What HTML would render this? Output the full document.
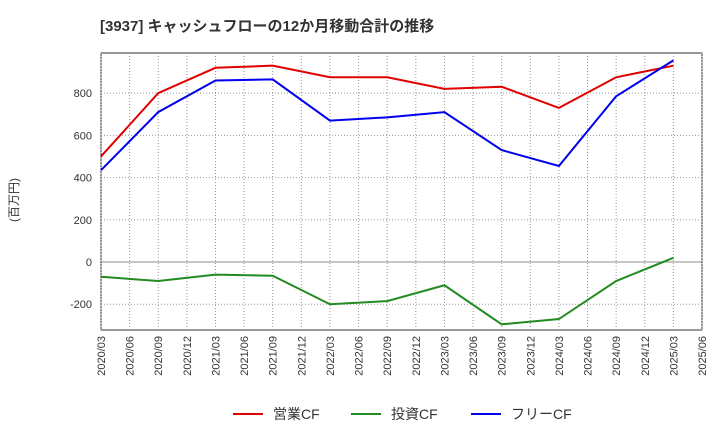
<!DOCTYPE html>
<html><head><meta charset="utf-8"><style>
body{margin:0;background:#fff;font-family:"Liberation Sans","Noto Sans CJK JP",sans-serif;}
</style></head><body>
<svg id="chart" width="720" height="440" xmlns="http://www.w3.org/2000/svg">
<text x="100" y="31" font-size="15" font-weight="bold" fill="#333" font-family="Liberation Sans, Noto Sans CJK JP, sans-serif">[3937]  キャッシュフローの12か月移動合計の推移</text>
<text transform="translate(18,200) rotate(-90)" text-anchor="middle" font-size="12" fill="#333" font-family="Liberation Sans, Noto Sans CJK JP, sans-serif">(百万円)</text>
<g id="grid"></g><g id="series"></g><g id="axes"></g>
<g id="legend"></g>
</svg>
<script>
const xLabels=["2020/03","2020/06","2020/09","2020/12","2021/03","2021/06","2021/09","2021/12","2022/03","2022/06","2022/09","2022/12","2023/03","2023/06","2023/09","2023/12","2024/03","2024/06","2024/09","2024/12","2025/03","2025/06"];
const yTicks=[-200,0,200,400,600,800];
const pointIdx=[0,2,4,6,8,10,12,14,16,18,20];
const opCF=[500,800,920,930,875,875,820,830,730,875,930];
const invCF=[-70,-90,-60,-65,-200,-185,-110,-295,-270,-90,20];
const freeCF=[435,710,860,865,670,685,710,530,455,785,955];
const seriesNames=["営業CF","投資CF","フリーCF"];
const ns="http://www.w3.org/2000/svg";
const L=101,R=702,T=53,B=330,yMin=-322,yMax=990;
const x=i=>L+(R-L)*i/(xLabels.length-1);
const y=v=>B-(v-yMin)/(yMax-yMin)*(B-T);
function mk(tag,a,parent){const e=document.createElementNS(ns,tag);for(const k in a)e.setAttribute(k,a[k]);document.getElementById(parent).appendChild(e);return e;}
let bg=mk("rect",{x:L,y:T,width:R-L,height:B-T,fill:"#fff",stroke:"#333","stroke-width":1},"grid");


xLabels.forEach((lab,i)=>{
 let g=mk("line",{x1:x(i),x2:x(i),y1:T,y2:B,stroke:"#999","stroke-dasharray":"1,2"},"grid");
 
 
 let t=mk("text",{transform:`translate(${x(i)+4},${B+6}) rotate(-90)`,"text-anchor":"end","font-size":11,fill:"#333"},"axes");
 t.textContent=lab;
 
 
});
yTicks.forEach(v=>{
 let g=mk("line",{x1:L,x2:R,y1:y(v),y2:y(v),stroke:v===0?"#666":"#999","stroke-dasharray":v===0?"none":"1,2","stroke-width":v===0?0.8:1},"grid");
 
 
 let t=mk("text",{x:L-9,y:y(v)+4,"text-anchor":"end","font-size":11,fill:"#333"},"axes");
 t.textContent=v;
 
 
});
const all=[[opCF,"#e00000","operating-cf-line"],[invCF,"#228b22","investing-cf-line"],[freeCF,"#0000ee","free-cf-line"]];
all.forEach(([d,c,n])=>{
 let p=mk("polyline",{points:d.map((v,k)=>x(pointIdx[k])+","+y(v)).join(" "),fill:"none",stroke:c,"stroke-width":2},"series");
 
 
});
const lx=[233,351,471];
seriesNames.forEach((s,i)=>{
 let l=mk("line",{x1:lx[i],x2:lx[i]+30,y1:414,y2:414,stroke:all[i][1],"stroke-width":2},"legend");
 
 
 let t=mk("text",{x:lx[i]+40,y:419,"font-size":14,fill:"#333"},"legend");
 t.textContent=s;
 
 
});
</script>
</body></html>
